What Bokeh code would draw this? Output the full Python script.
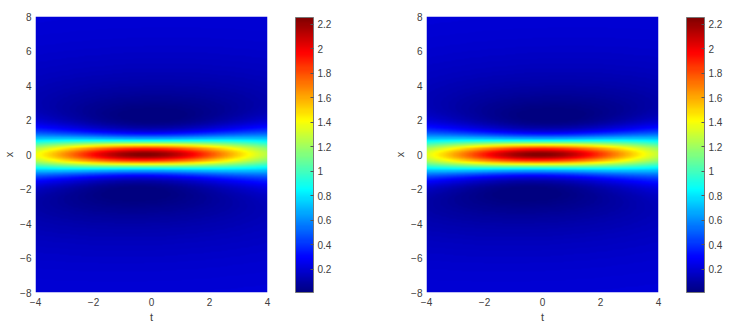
import numpy as np
from bokeh.plotting import figure
from bokeh.layouts import row
from bokeh.models import (LinearColorMapper, ColorBar, FixedTicker, Range1d,
                          CustomJSTickFormatter)
from bokeh.embed import file_html
from bokeh.resources import INLINE

# ---- data ----
T_LIMITS = [-4.0, 4.0]
X_LIMITS = [-8.0, 8.0]
T_TICKS = [-4, -2, 0, 2, 4]
X_TICKS = [-8, -6, -4, -2, 0, 2, 4, 6, 8]
CB_TICKS = [0.2, 0.4, 0.6, 0.8, 1.0, 1.2, 1.4, 1.6, 1.8, 2.0, 2.2]
CB_LIMITS = [0.01, 2.255]
BACKGROUND = 0.25          # |q|^2 far from the peak
X_SCALE = [0.6, 0.6]       # localisation in x, per panel
T_SCALE = [0.235, 0.235]   # localisation in t, per panel
T_SHIFT = [-0.25, -0.12]   # centre offset in t, per panel
SHEAR = [0.125, 0.18]      # slight tilt of the dips, per panel
NT, NX = 321, 401

def jet(n=256):
    v = np.linspace(0, 1, n)
    r = np.clip(1.5 - np.abs(4 * v - 3), 0, 1)
    g = np.clip(1.5 - np.abs(4 * v - 2), 0, 1)
    b = np.clip(1.5 - np.abs(4 * v - 1), 0, 1)
    return ["#%02x%02x%02x" % (int(round(a * 255)), int(round(c * 255)), int(round(d * 255)))
            for a, c, d in zip(r, g, b)]

PALETTE = jet()
FONT = "Liberation Sans"
TXT = "#404040"

def field(k):
    t = np.linspace(T_LIMITS[0], T_LIMITS[1], NT)
    x = np.linspace(X_LIMITS[0], X_LIMITS[1], NX)
    T, X = np.meshgrid(t, x)
    w = T_SCALE[k] * (T - T_SHIFT[k] - SHEAR[k] * X)
    q = 1 - 4 * (1 + 1j * w) / (1 + X_SCALE[k] * X ** 2 + w ** 2)
    return BACKGROUND * np.abs(q) ** 2

def panel(k, right_border):
    p = figure(frame_width=232, frame_height=276, output_backend="svg",
               toolbar_location=None, x_range=Range1d(*T_LIMITS),
               y_range=Range1d(*X_LIMITS), min_border_left=28,
               min_border_top=16, min_border_bottom=24,
               min_border_right=right_border)
    p.outline_line_color = None
    p.grid.visible = False
    mapper = LinearColorMapper(palette=PALETTE, low=CB_LIMITS[0], high=CB_LIMITS[1])
    p.image(image=[field(k)], x=T_LIMITS[0], y=X_LIMITS[0],
            dw=T_LIMITS[1] - T_LIMITS[0], dh=X_LIMITS[1] - X_LIMITS[0],
            color_mapper=mapper)
    for ax, lab, ticks in ((p.xaxis, "t", T_TICKS), (p.yaxis, "x", X_TICKS)):
        ax.ticker = FixedTicker(ticks=ticks)
        ax.axis_label = lab
        ax.axis_line_color = None
        ax.major_tick_line_color = None
        ax.minor_tick_line_color = None
        ax.major_tick_out = 0
        ax.major_tick_in = 0
        ax.minor_tick_out = 0
        ax.minor_tick_in = 0
        ax.major_label_text_font = FONT
        ax.major_label_text_font_size = "10px"
        ax.major_label_text_color = TXT
        ax.axis_label_text_font = FONT
        ax.axis_label_text_font_size = "11px"
        ax.axis_label_text_font_style = "normal"
        ax.axis_label_text_color = TXT
    p.xaxis.major_label_standoff = 5
    p.xaxis.axis_label_standoff = 2
    p.yaxis.major_label_standoff = 4
    p.yaxis.axis_label_standoff = 2
    cb = ColorBar(color_mapper=mapper, width=18, height=275,
                  ticker=FixedTicker(ticks=CB_TICKS),
                  formatter=CustomJSTickFormatter(code="return tick.toFixed(1).replace(/\\.0$/, '');"),
                  major_label_text_font=FONT, major_label_text_font_size="10px",
                  major_label_text_color=TXT, major_tick_in=3, major_tick_out=0,
                  major_tick_line_color="#555555", bar_line_color="#777777",
                  border_line_color=None, background_fill_color=None,
                  padding=0, margin=0, label_standoff=4, location=(28, 0))
    p.add_layout(cb, "right")
    return p

left = panel(0, 124)
right = panel(1, 62)
layout = row(left, right)
open("out.html", "w").write(file_html(layout, INLINE))
